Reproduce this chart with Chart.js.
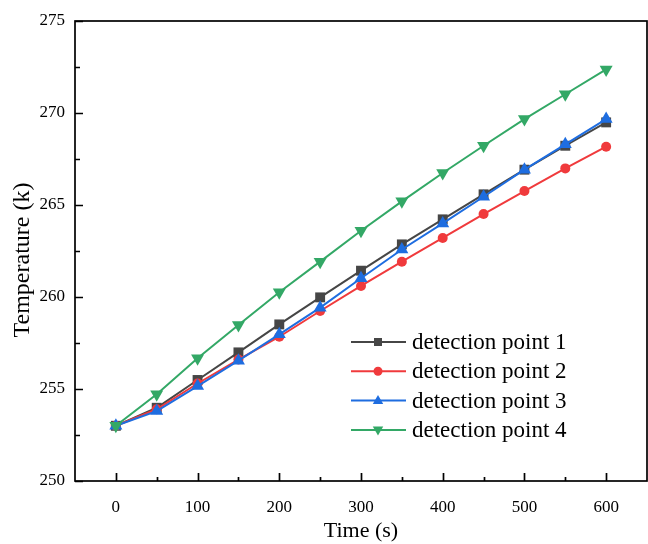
<!DOCTYPE html>
<html>
<head>
<meta charset="utf-8">
<script src="https://cdn.jsdelivr.net/npm/chart.js@4/dist/chart.umd.min.js"></script>
<style>
html,body{margin:0;padding:0;background:#fff;overflow:hidden;}
canvas{display:block;}
</style>
</head>
<body>
<canvas id="c" width="648" height="544" style="width:648px;height:544px;"></canvas>
<script>
const times = [0, 50, 100, 150, 200, 250, 300, 350, 400, 450, 500, 550, 600];
const point1 = [253.0, 253.98, 255.49, 256.99, 258.51, 259.98, 261.43, 262.86, 264.22, 265.58, 266.92, 268.22, 269.49];
const point2 = [253.0, 253.90, 255.30, 256.60, 257.84, 259.24, 260.60, 261.92, 263.21, 264.51, 265.76, 266.99, 268.17];
const point3 = [253.0, 253.80, 255.16, 256.54, 257.97, 259.42, 261.02, 262.58, 264.00, 265.45, 266.92, 268.30, 269.67];
const point4 = [253.0, 254.71, 256.67, 258.48, 260.26, 261.92, 263.60, 265.20, 266.74, 268.22, 269.67, 271.02, 272.37];
const seriesNames = ['detection point 1', 'detection point 2', 'detection point 3', 'detection point 4'];
const xTicks = [0, 100, 200, 300, 400, 500, 600];
const yTicks = [250, 255, 260, 265, 270, 275];

const FONT = "'Liberation Serif', 'Times New Roman', serif";
const styles = [
  {color: '#464646', style: 'rect', rot: 0, r: 7},
  {color: '#f03a3c', style: 'circle', rot: 0, r: 5},
  {color: '#1e6de0', style: 'triangle', rot: 0, r: 7.5},
  {color: '#33a866', style: 'triangle', rot: 180, r: 7.5}
];
const seriesData = [point1, point2, point3, point4];

function drawMarker(ctx, st, x, y, r) {
  ctx.beginPath();
  if (st.style === 'rect') {
    ctx.rect(x - r, y - r, 2 * r, 2 * r);
  } else if (st.style === 'circle') {
    ctx.arc(x, y, r, 0, Math.PI * 2);
  } else {
    const dir = st.rot === 180 ? -1 : 1;
    ctx.moveTo(x, y - dir * r);
    ctx.lineTo(x - r * 0.95, y + dir * r * 0.6);
    ctx.lineTo(x + r * 0.95, y + dir * r * 0.6);
    ctx.closePath();
  }
  ctx.fillStyle = st.color;
  ctx.fill();
}

const framePlugin = {
  id: 'frameTicks',
  afterDraw(chart) {
    const {ctx, chartArea: {left, right, top, bottom}, scales: {x, y}} = chart;
    ctx.save();
    ctx.strokeStyle = '#000';
    ctx.lineWidth = 1.7;
    ctx.strokeRect(left, top, right - left, bottom - top);
    ctx.beginPath();
    xTicks.forEach((v, i) => {
      const px = Math.round(x.getPixelForValue(v)) + 0.5;
      ctx.moveTo(px, bottom); ctx.lineTo(px, bottom - 8);
      if (i < xTicks.length - 1) {
        const pm = Math.round(x.getPixelForValue((v + xTicks[i + 1]) / 2)) + 0.5;
        ctx.moveTo(pm, bottom); ctx.lineTo(pm, bottom - 4);
      }
    });
    yTicks.forEach((v, i) => {
      const py = Math.round(y.getPixelForValue(v)) + 0.5;
      ctx.moveTo(left, py); ctx.lineTo(left + 8, py);
      if (i < yTicks.length - 1) {
        const pm = Math.round(y.getPixelForValue((v + yTicks[i + 1]) / 2)) + 0.5;
        ctx.moveTo(left, pm); ctx.lineTo(left + 5, pm);
      }
    });
    ctx.stroke();

    // legend inside plot
    const lx0 = left + 276, lx1 = left + 331, mx = left + 303, tx = left + 337;
    const ly0 = top + 321, dy = 29.3;
    ctx.font = "23px " + FONT;
    ctx.textBaseline = 'middle';
    ctx.textAlign = 'left';
    seriesNames.forEach((name, i) => {
      const st = styles[i];
      const yy = ly0 + i * dy;
      ctx.strokeStyle = st.color;
      ctx.lineWidth = 2;
      ctx.beginPath(); ctx.moveTo(lx0, yy); ctx.lineTo(lx1, yy); ctx.stroke();
      drawMarker(ctx, st, mx, yy, st.style === 'rect' ? 4 : (st.style === 'circle' ? 4.5 : 5.5));
      ctx.fillStyle = '#000';
      ctx.fillText(name, tx, yy + 1);
    });
    ctx.restore();
  }
};

const datasets = seriesData.map((arr, i) => ({
  label: seriesNames[i],
  data: arr.map((v, k) => ({x: times[k], y: v})),
  borderColor: styles[i].color,
  backgroundColor: styles[i].color,
  borderWidth: 2,
  pointStyle: styles[i].style,
  pointRotation: styles[i].rot,
  pointRadius: styles[i].r,
  pointBorderWidth: 0,
  tension: 0,
  order: 4 - i
}));

new Chart(document.getElementById('c'), {
  type: 'line',
  data: {datasets},
  options: {
    responsive: false,
    maintainAspectRatio: false,
    devicePixelRatio: 1,
    animation: false,
    layout: {autoPadding: false, padding: {top: 21, right: 1, left: 0, bottom: 0}},
    plugins: {legend: {display: false}, tooltip: {enabled: false}},
    scales: {
      x: {
        type: 'linear', min: -50, max: 650,
        afterBuildTicks: s => { s.ticks = xTicks.map(v => ({value: v})); },
        afterFit: s => { s.height = 63; s.paddingLeft = 0; s.paddingRight = 0; },
        grid: {display: false, drawTicks: false},
        border: {display: false},
        ticks: {color: '#000', font: {family: FONT, size: 17}, padding: 16, maxRotation: 0},
        title: {display: true, text: 'Time (s)', color: '#000', font: {family: FONT, size: 22}, padding: {top: 0, bottom: 0}}
      },
      y: {
        type: 'linear', min: 250, max: 275,
        afterBuildTicks: s => { s.ticks = yTicks.map(v => ({value: v})); },
        afterFit: s => { s.width = 75; s.paddingTop = 0; s.paddingBottom = 0; },
        grid: {display: false, drawTicks: false},
        border: {display: false},
        ticks: {color: '#000', font: {family: FONT, size: 17}, padding: 10},
        title: {display: true, text: 'Temperature (k)   ', color: '#000', font: {family: FONT, size: 24}, padding: {top: 8, bottom: 0}}
      }
    }
  },
  plugins: [framePlugin]
});
</script>
</body>
</html>
